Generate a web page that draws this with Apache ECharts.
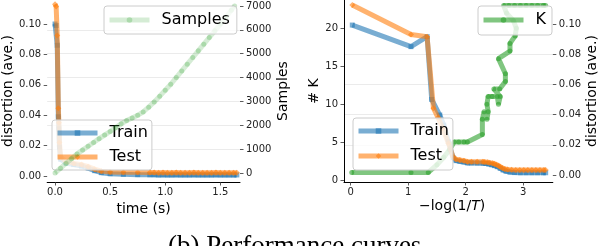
<!DOCTYPE html>
<html><head><meta charset="utf-8">
<script src="https://cdn.jsdelivr.net/npm/echarts@6/dist/echarts.min.js"></script>
<style>html,body{margin:0;padding:0;background:#fff}#c{width:600px;height:246px}</style>
</head><body><div id="c"></div>
<script>
// ---------- data ----------
// Left panel: samples vs time
const sampleTime = [0, 0.05, 0.1, 0.15, 0.2, 0.25, 0.3, 0.35, 0.4, 0.45, 0.5, 0.55, 0.6, 0.65, 0.7, 0.75, 0.8, 0.85, 0.9, 0.95, 1.0, 1.05, 1.1, 1.15, 1.2, 1.25, 1.3, 1.35, 1.4, 1.45, 1.5, 1.55, 1.6, 1.63];
const sampleCount = [0, 200, 400, 600, 800, 960, 1120, 1280, 1440, 1590, 1740, 1900, 2060, 2200, 2310, 2420, 2560, 2760, 2980, 3220, 3470, 3720, 4000, 4280, 4560, 4840, 5120, 5400, 5680, 5960, 6240, 6530, 6820, 7000];
// Left panel: distortion vs time
const distTime = [0.0, 0.01, 0.02, 0.03, 0.035, 0.04, 0.05, 0.1, 0.17, 0.24, 0.3, 0.36, 0.42, 0.5, 0.62, 0.75, 0.86, 0.9, 0.94, 0.98, 1.02, 1.06, 1.1, 1.14, 1.18, 1.22, 1.26, 1.3, 1.34, 1.38, 1.42, 1.46, 1.5, 1.54, 1.58, 1.62, 1.65];
const trainDistL = [0.1, 0.099, 0.086, 0.039, 0.031, 0.019, 0.011, 0.0085, 0.0075, 0.0066, 0.0052, 0.0035, 0.0022, 0.0015, 0.0011, 0.0009, 0.0008, 0.0008, 0.0007, 0.0008, 0.0007, 0.0007, 0.0008, 0.0007, 0.0007, 0.0007, 0.0008, 0.0007, 0.0007, 0.0007, 0.0007, 0.0008, 0.0007, 0.0007, 0.0007, 0.0007, 0.0007];
const testDistL = [0.113, 0.1115, 0.0925, 0.0446, 0.035, 0.022, 0.0125, 0.0095, 0.0083, 0.0075, 0.0062, 0.0045, 0.0032, 0.0027, 0.0025, 0.0024, 0.0023, 0.0023, 0.0022, 0.0023, 0.0022, 0.0022, 0.0023, 0.0022, 0.0022, 0.0022, 0.0023, 0.0022, 0.0022, 0.0022, 0.0022, 0.0023, 0.0022, 0.0022, 0.0022, 0.0022, 0.0022];
// Right panel: distortion vs -log(1/T)
const trainLogT = [0.03, 1.05, 1.33, 1.41, 1.55, 1.62, 1.7, 1.78, 1.83, 1.9, 1.97, 2.03, 2.1, 2.2, 2.3, 2.35, 2.4, 2.45, 2.5, 2.55, 2.6, 2.65, 2.7, 2.77, 2.85, 2.95, 3.05, 3.15, 3.25, 3.35, 3.39];
const trainDistR = [0.0993, 0.085, 0.0916, 0.05, 0.0397, 0.033, 0.022, 0.0115, 0.0095, 0.009, 0.0086, 0.008, 0.008, 0.0079, 0.0078, 0.0076, 0.0073, 0.0068, 0.0062, 0.0055, 0.0044, 0.0033, 0.0025, 0.0019, 0.0016, 0.0015, 0.0015, 0.0015, 0.0015, 0.0015, 0.0015];
const testLogT = [0.03, 1.05, 1.33, 1.44, 1.52, 1.6, 1.7, 1.78, 1.83, 1.9, 1.97, 2.03, 2.1, 2.2, 2.3, 2.33, 2.38, 2.42, 2.47, 2.5, 2.53, 2.57, 2.6, 2.64, 2.68, 2.73, 2.8, 2.87, 2.94, 3.01, 3.08, 3.15, 3.22, 3.29, 3.36, 3.39];
const testDistR = [0.1126, 0.093, 0.0916, 0.0442, 0.038, 0.031, 0.021, 0.012, 0.0105, 0.0099, 0.0095, 0.0088, 0.0088, 0.0087, 0.0087, 0.0086, 0.0084, 0.0081, 0.0078, 0.0074, 0.0069, 0.0062, 0.0055, 0.0046, 0.004, 0.0036, 0.0034, 0.0033, 0.0033, 0.0033, 0.0033, 0.0033, 0.0033, 0.0033, 0.0033, 0.0033];
// Right panel: number of clusters K vs -log(1/T)
const kLogT = [0.02, 1.05, 1.35, 1.5, 1.62, 1.72, 1.8, 1.88, 1.97, 2.03, 2.29, 2.29, 2.32, 2.37, 2.39, 2.37, 2.39, 2.46, 2.55, 2.57, 2.6, 2.49, 2.59, 2.69, 2.69, 2.57, 2.77, 2.77, 2.86, 2.88, 2.83, 2.71, 2.66, 2.75, 2.85, 2.95, 3.05, 3.15, 3.25, 3.35, 3.39];
const kValues = [1, 1, 1, 2, 3, 4, 5, 5, 5, 5, 6, 8, 9, 8, 9, 10, 11, 11, 11, 10, 11, 12, 12, 13, 14, 16, 17, 18, 19, 20, 21, 22, 23, 23, 23, 23, 23, 23, 23, 23, 23];
// tick labels
const timeTicks = [0, 0.5, 1.0, 1.5];
const distTicks = [0, 0.02, 0.04, 0.06, 0.08, 0.10];
const sampleTicks = [0, 1000, 2000, 3000, 4000, 5000, 6000, 7000];
const logTTicks = [0, 1, 2, 3];
const kTicks = [0, 5, 10, 15, 20];

// ---------- chart ----------
const FONT = 'DejaVu Sans';
const BLUE = '#1f77b4', ORANGE = '#ff7f0e', GREEN = '#2ca02c';
const pair = (xs, ys) => xs.map((x, i) => [x, ys[i]]);

function xAx(grid, min, max, ticks, fmt, name) {
  return {
    type: 'value', gridIndex: grid, min: min, max: max, position: 'bottom',
    axisLine: { show: true, onZero: false, lineStyle: { color: '#000', width: 1 } },
    axisTick: { show: true, length: 3.5, lineStyle: { color: '#333', width: 0.8 }, customValues: ticks },
    axisLabel: { customValues: ticks, formatter: fmt, fontFamily: FONT, fontSize: 10, color: '#222', margin: 5 },
    splitLine: { show: false },
    name: name, nameLocation: 'middle', nameGap: 17,
    nameTextStyle: { fontFamily: FONT, fontSize: 14, color: '#000' }
  };
}
function yAx(grid, pos, min, max, ticks, fmt, name, gap, spine, gridOn) {
  return {
    type: 'value', gridIndex: grid, position: pos, min: min, max: max,
    axisLine: { show: spine, onZero: false, lineStyle: { color: '#000', width: 1 } },
    axisTick: { show: true, length: 3.5, lineStyle: { color: '#333', width: 0.8 }, customValues: ticks },
    axisLabel: { customValues: ticks, formatter: fmt, fontFamily: FONT, fontSize: 10, color: '#222', margin: 6 },
    splitLine: { show: gridOn, showMinLine: false, showMaxLine: false, lineStyle: { color: '#ebebeb', width: 1 } },
    name: name, nameLocation: 'middle', nameRotate: 90, nameGap: gap,
    nameTextStyle: { fontFamily: FONT, fontSize: 14, color: '#000' }
  };
}
function lineSeries(name, color, symbol, size, xi, yi, data, z, alpha, markAlpha) {
  return {
    type: 'line', name: name, xAxisIndex: xi, yAxisIndex: yi, data: data, z: z,
    symbol: symbol, symbolSize: size, showSymbol: true, showAllSymbol: true,
    lineStyle: { color: color, width: 5, opacity: alpha },
    itemStyle: { color: color, opacity: markAlpha },
    emphasis: { disabled: true }
  };
}
const legendBase = {
  orient: 'vertical', itemWidth: 40, itemHeight: 7, selectedMode: false,
  backgroundColor: 'rgba(255,255,255,0.8)', borderColor: '#cccccc', borderWidth: 1, borderRadius: 3,
  lineStyle: { width: 5 },
  textStyle: { fontFamily: FONT, fontSize: 16, color: '#000', padding: [0, 0, 0, 7] }
};
const f2 = v => v.toFixed(2), f1 = v => v.toFixed(1), f0 = v => String(Math.round(v));
const DIAMOND = 'path://M0,-1L1,0L0,1L-1,0Z';

const option = {
  animation: false,
  grid: [
    { left: 44, right: 360, top: 0, bottom: 64 },
    { left: 344, right: 43, top: 0, bottom: 64 }
  ],
  xAxis: [
    xAx(0, -0.0714, 1.6786, timeTicks, f1, 'time (s)'),
    xAx(1, -0.1141, 3.5145, logTTicks, f0, '')
  ],
  yAxis: [
    yAx(0, 'left', -0.00395, 0.11579, distTicks, f2, 'distortion (ave.)', 31, false, false),
    yAx(0, 'right', -377, 7251, sampleTicks, f0, 'Samples', 36, false, true),
    yAx(1, 'left', -0.264, 23.73, kTicks, f0, '# K', 21, true, false),
    yAx(1, 'right', -0.00464, 0.11589, distTicks, f2, 'distortion (ave.)', 30, false, true)
  ],
  legend: [
    Object.assign({}, legendBase, { data: ['Samples'], left: 104, top: 6, padding: [6, 7, 6, 3], z: 6 }),
    Object.assign({}, legendBase, { data: ['Train', 'Test'], left: 52, top: 120, padding: [5, 4, 5, 3], itemGap: 8, z: 4 }),
    Object.assign({}, legendBase, { data: ['K'], left: 478, top: 6, padding: [6, 6, 7, 3], z: 3 }),
    Object.assign({}, legendBase, { data: ['Train', 'Test'], left: 353, top: 118, padding: [5, 4, 6, 3], itemGap: 9, z: 6 })
  ],
  graphic: [
    { type: 'text', left: 168, top: 233, z: 10,
      style: { text: '(b) Performance curves', font: '27px "Liberation Serif"', fill: '#000' } },
    { type: 'text', left: 419, top: 199, z: 10,
      style: { rich: { a: { fontFamily: FONT, fontSize: 14, fill: '#000' }, b: { fontFamily: FONT, fontSize: 14, fontStyle: 'italic', fill: '#000' } },
               text: '{a|\u2212log(1/}{b|T}{a|)}' } }
  ],
  series: [
    lineSeries('Train', BLUE, 'rect', 5, 0, 0, pair(distTime, trainDistL), 2, 0.6, 0.6),
    lineSeries('Test', ORANGE, DIAMOND, 6, 0, 0, pair(distTime, testDistL), 3, 0.6, 0.6),
    lineSeries('Samples', GREEN, 'circle', 5, 0, 1, pair(sampleTime, sampleCount), 5, 0.2, 0.25),
    lineSeries('K', GREEN, 'circle', 5, 1, 2, pair(kLogT, kValues), 2, 0.6, 0.6),
    lineSeries('Train', BLUE, 'rect', 5, 1, 3, pair(trainLogT, trainDistR), 4, 0.6, 0.6),
    lineSeries('Test', ORANGE, DIAMOND, 6, 1, 3, pair(testLogT, testDistR), 5, 0.6, 0.6)
  ]
};
const chart = echarts.init(document.getElementById('c'), null, { renderer: 'canvas' });
chart.setOption(option);
</script>
</body></html>
